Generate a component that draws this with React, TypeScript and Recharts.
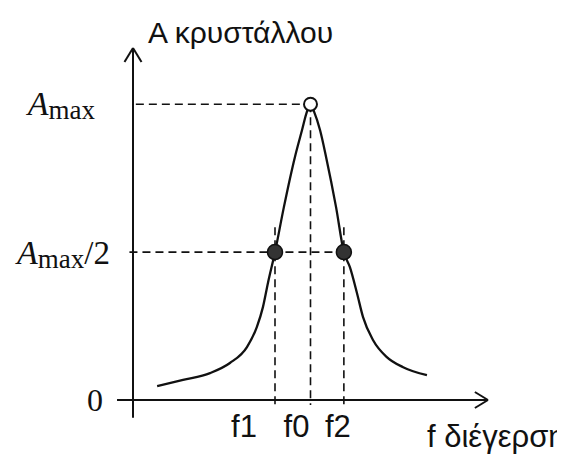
import { Line, LineChart, ReferenceDot, ReferenceLine, XAxis, YAxis, Label } from "recharts";

// Πλάτος ταλάντωσης κρυστάλλου συναρτήσει της συχνότητας διέγερσης (συντονισμός)
const freq = [0.68, 1.41, 2.17, 2.73, 3.21, 3.49, 3.66, 3.8, 4.0, 4.25, 4.56, 4.76, 4.9, 5.0, 5.1, 5.27, 5.44, 5.72, 5.94, 6.11, 6.31, 6.48, 6.76, 7.15, 7.61, 8.28];
const amplitude = [0.47, 0.68, 0.91, 1.25, 1.79, 2.47, 3.14, 3.95, 5.0, 6.52, 8.21, 9.12, 9.75, 10, 9.75, 9.12, 8.21, 6.52, 5.0, 4.49, 3.61, 2.8, 2.03, 1.45, 1.11, 0.84];

const A_MAX = 10;
const markFreq = [4.0, 5.0, 5.94];
const markLabels = ["f1", "f0", "f2"];
const levelValues = [0, A_MAX / 2, A_MAX];

const data = freq.map((f, i) => ({ f, a: amplitude[i] }));

const X_MAX = 10;
const Y_MAX = 11.9;
const INK = "#111";
const DASH = "8 5";
const SANS = "'Liberation Sans', Arial, sans-serif";
const SERIF = "'Liberation Serif', 'Times New Roman', serif";

function XTick({ x, y, payload }: any) {
  const i = markFreq.indexOf(payload.value);
  const shift = [-31, -14, -6][i] ?? 0;
  return (
    <text x={x + shift} y={y + 35} textAnchor="middle" fontFamily={SANS} fontSize={31} fill={INK}>
      {markLabels[i]}
    </text>
  );
}

function YTick({ x, y, payload }: any) {
  const v = payload.value;
  if (v === 0) {
    return (
      <text x={x - 28} y={y + 11} textAnchor="end" fontFamily={SERIF} fontSize={32} fill={INK}>
        0
      </text>
    );
  }
  const half = v !== A_MAX;
  return (
    <text x={x - (half ? 21 : 36)} y={y + (half ? 12 : 11)} textAnchor="end" fontFamily={SERIF} fill={INK}>
      <tspan fontStyle="italic" fontSize={34}>A</tspan>
      <tspan fontSize={27} dy={4}>max</tspan>
      {half && (
        <tspan fontSize={33} dy={-4}>/2</tspan>
      )}
    </text>
  );
}

export default function App() {
  return (
    <LineChart width={565} height={455} data={data} margin={{ top: 40, right: 85, bottom: 23, left: 5 }}>
      <XAxis
        type="number"
        dataKey="f"
        domain={[0, X_MAX]}
        ticks={markFreq}
        tick={<XTick />}
        axisLine={false}
        tickLine={false}
        tickSize={0}
        height={40}
        allowDataOverflow
      >
        <Label
          content={({ viewBox }: any) => (
            <text x={viewBox.x + viewBox.width - 61} y={viewBox.y + 47} fontFamily={SANS} fontSize={31} fill={INK}>
              f διέγερση
            </text>
          )}
        />
      </XAxis>
      <YAxis
        type="number"
        domain={[0, Y_MAX]}
        ticks={levelValues}
        tick={<YTick />}
        axisLine={false}
        tickLine={false}
        tickSize={0}
        width={120}
        allowDataOverflow
      >
        <Label
          content={({ viewBox }: any) => (
            <text x={viewBox.x + viewBox.width + 15} y={viewBox.y - 5} fontFamily={SANS} fontSize={30} fill={INK}>
              A κρυστάλλου
            </text>
          )}
        />
      </YAxis>

      {/* άξονες με βέλη */}
      <ReferenceLine segment={[{ x: -0.45, y: 0 }, { x: X_MAX, y: 0 }]} stroke={INK} strokeWidth={2} ifOverflow="visible" />
      <ReferenceLine segment={[{ x: X_MAX - 0.37, y: 0.27 }, { x: X_MAX, y: 0 }]} stroke={INK} strokeWidth={2} ifOverflow="visible" />
      <ReferenceLine segment={[{ x: X_MAX - 0.37, y: -0.27 }, { x: X_MAX, y: 0 }]} stroke={INK} strokeWidth={2} ifOverflow="visible" />
      <ReferenceLine segment={[{ x: 0, y: -0.6 }, { x: 0, y: Y_MAX }]} stroke={INK} strokeWidth={2} ifOverflow="visible" />
      <ReferenceLine segment={[{ x: -0.24, y: Y_MAX - 0.47 }, { x: 0, y: Y_MAX }]} stroke={INK} strokeWidth={2} ifOverflow="visible" />
      <ReferenceLine segment={[{ x: 0.24, y: Y_MAX - 0.47 }, { x: 0, y: Y_MAX }]} stroke={INK} strokeWidth={2} ifOverflow="visible" />

      {/* βοηθητικές διακεκομμένες */}
      <ReferenceLine segment={[{ x: 0.08, y: A_MAX }, { x: markFreq[1], y: A_MAX }]} stroke={INK} strokeWidth={1.6} strokeDasharray={DASH} ifOverflow="visible" />
      <ReferenceLine segment={[{ x: -0.1, y: A_MAX / 2 }, { x: 6.17, y: A_MAX / 2 }]} stroke={INK} strokeWidth={1.6} strokeDasharray={DASH} ifOverflow="visible" />
      <ReferenceLine segment={[{ x: markFreq[0], y: 5.84 }, { x: markFreq[0], y: -0.17 }]} stroke={INK} strokeWidth={1.6} strokeDasharray={DASH} ifOverflow="visible" />
      <ReferenceLine segment={[{ x: markFreq[1], y: A_MAX }, { x: markFreq[1], y: -0.17 }]} stroke={INK} strokeWidth={1.6} strokeDasharray={DASH} ifOverflow="visible" />
      <ReferenceLine segment={[{ x: markFreq[2], y: 5.84 }, { x: markFreq[2], y: -0.17 }]} stroke={INK} strokeWidth={1.6} strokeDasharray={DASH} ifOverflow="visible" />

      <Line type="monotone" dataKey="a" stroke={INK} strokeWidth={2.3} dot={false} isAnimationActive={false} />

      <ReferenceDot x={markFreq[1]} y={A_MAX} r={6.5} fill="#fff" stroke={INK} strokeWidth={2} />
      <ReferenceDot x={markFreq[0]} y={A_MAX / 2} r={7.5} fill="#333" stroke={INK} strokeWidth={1.5} />
      <ReferenceDot x={markFreq[2]} y={A_MAX / 2} r={7.5} fill="#333" stroke={INK} strokeWidth={1.5} />
    </LineChart>
  );
}
